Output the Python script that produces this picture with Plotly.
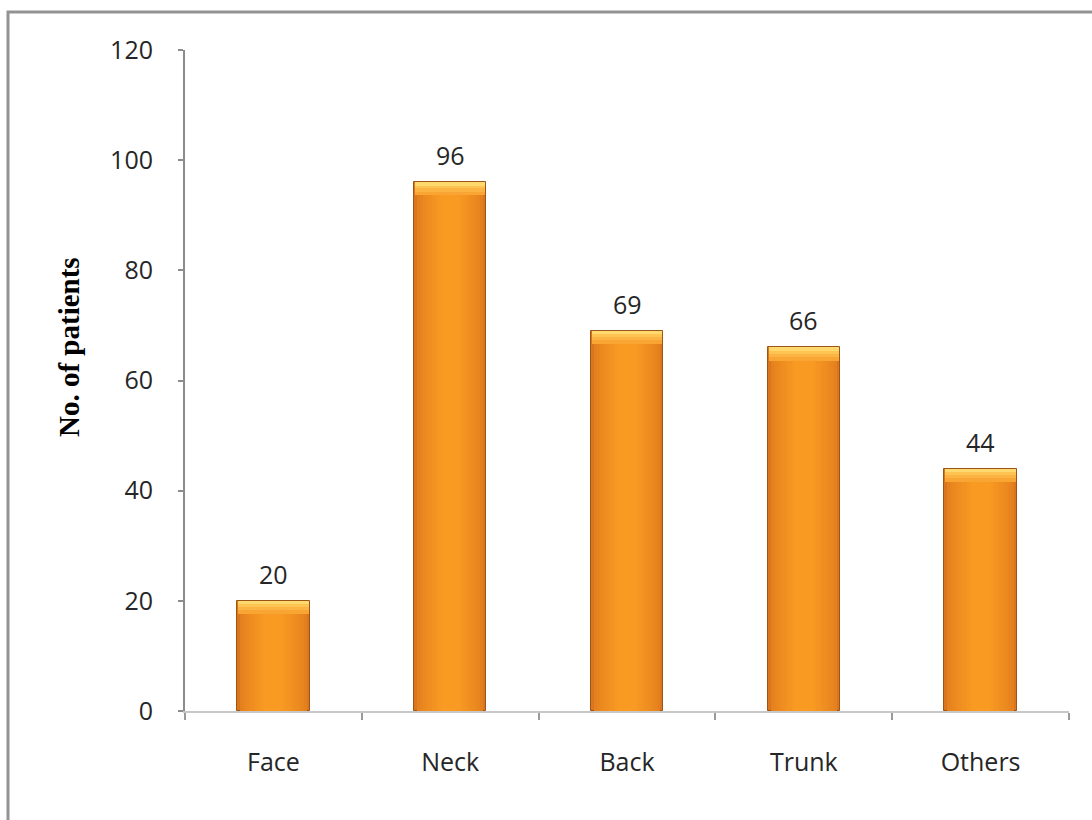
import plotly.graph_objects as go

# Patient counts by body site
categories = ["Face", "Neck", "Back", "Trunk", "Others"]
patients = [20, 96, 69, 66, 44]
y_ticks = [0, 20, 40, 60, 80, 100, 120]

# Plot area geometry in pixels (used to place the frame and the axis title)
W, H = 1092, 820
L, R, T, B = 185, 23, 50, 109
PW, PH = W - L - R, H - T - B

TEXT_FONT = "Open Sans"
TEXT_COLOR = "#262626"


def mix(c1, c2, t):
    a = [int(c1[i:i + 2], 16) for i in (1, 3, 5)]
    b = [int(c2[i:i + 2], 16) for i in (1, 3, 5)]
    return "#" + "".join(f"{round(x + (y - x) * t):02x}" for x, y in zip(a, b))


fig = go.Figure()

# Layered bars shade each column from a darker rim to a bright centre
BAR_W = 0.41
EDGE, CENTRE = "#DC761D", "#F99A22"
steps = 10
for i in range(steps):
    t = i / (steps - 1)
    width = BAR_W * (1 - 0.75 * t)
    color = mix(EDGE, CENTRE, t ** 0.6)
    outline = dict(color="#9A5518", width=1) if i == 0 else dict(width=0)
    fig.add_trace(go.Bar(
        x=categories, y=patients, width=width,
        marker=dict(color=color, line=outline),
        hoverinfo="skip", showlegend=False,
    ))

# Light cap along the top of each bar
cap_layers = [(2.4, "#F9A534"), (1.7, "#FBB443"), (1.1, "#FDC452"), (0.6, "#FFD86E")]
for depth, color in cap_layers:
    fig.add_trace(go.Bar(
        x=categories, y=[depth] * len(patients),
        base=[v - depth for v in patients], width=BAR_W - 0.012,
        marker=dict(color=color, line=dict(width=0)),
        hoverinfo="skip", showlegend=False,
    ))

# Value labels above the bars
for cat, val in zip(categories, patients):
    fig.add_annotation(
        x=cat, y=val, text=str(val), showarrow=False,
        yanchor="bottom", yshift=8,
        font=dict(family=TEXT_FONT, size=25, color=TEXT_COLOR),
    )

# Rotated axis title
fig.add_annotation(
    xref="paper", yref="paper",
    x=(69 - L) / PW, y=(H - B - 347) / PH,
    text="<b>No. of patients</b>", textangle=-90, showarrow=False,
    xanchor="center", yanchor="middle",
    font=dict(family="Liberation Serif", size=29, color="#000000"),
)

# Outer frame
fig.add_shape(
    type="rect", xref="paper", yref="paper",
    x0=(8 - L) / PW, y0=-0.5, x1=1.5, y1=(H - B - 12) / PH,
    line=dict(color="#939393", width=3), layer="below",
)

fig.update_layout(
    width=W, height=H,
    margin=dict(l=L, r=R, t=T, b=B),
    barmode="overlay",
    bargap=0,
    plot_bgcolor="white", paper_bgcolor="white",
    xaxis=dict(
        type="category", categoryorder="array", categoryarray=categories,
        showgrid=False, zeroline=False,
        showline=True, linecolor="#C8C8C8", linewidth=1.5,
        ticks="outside", tickson="boundaries", ticklen=7, tickwidth=1.5,
        tickcolor="#9A9A9A", ticklabelstandoff=28,
        tickfont=dict(family=TEXT_FONT, size=25, color=TEXT_COLOR),
    ),
    yaxis=dict(
        range=[0, 120], tickvals=y_ticks,
        showgrid=False, zeroline=False,
        showline=True, linecolor="#8C8C8C", linewidth=2,
        ticks="outside", ticklen=5, tickwidth=1.5, tickcolor="#8C8C8C",
        ticklabelstandoff=20,
        tickfont=dict(family=TEXT_FONT, size=25, color=TEXT_COLOR),
    ),
)

fig.write_html("out.html")
